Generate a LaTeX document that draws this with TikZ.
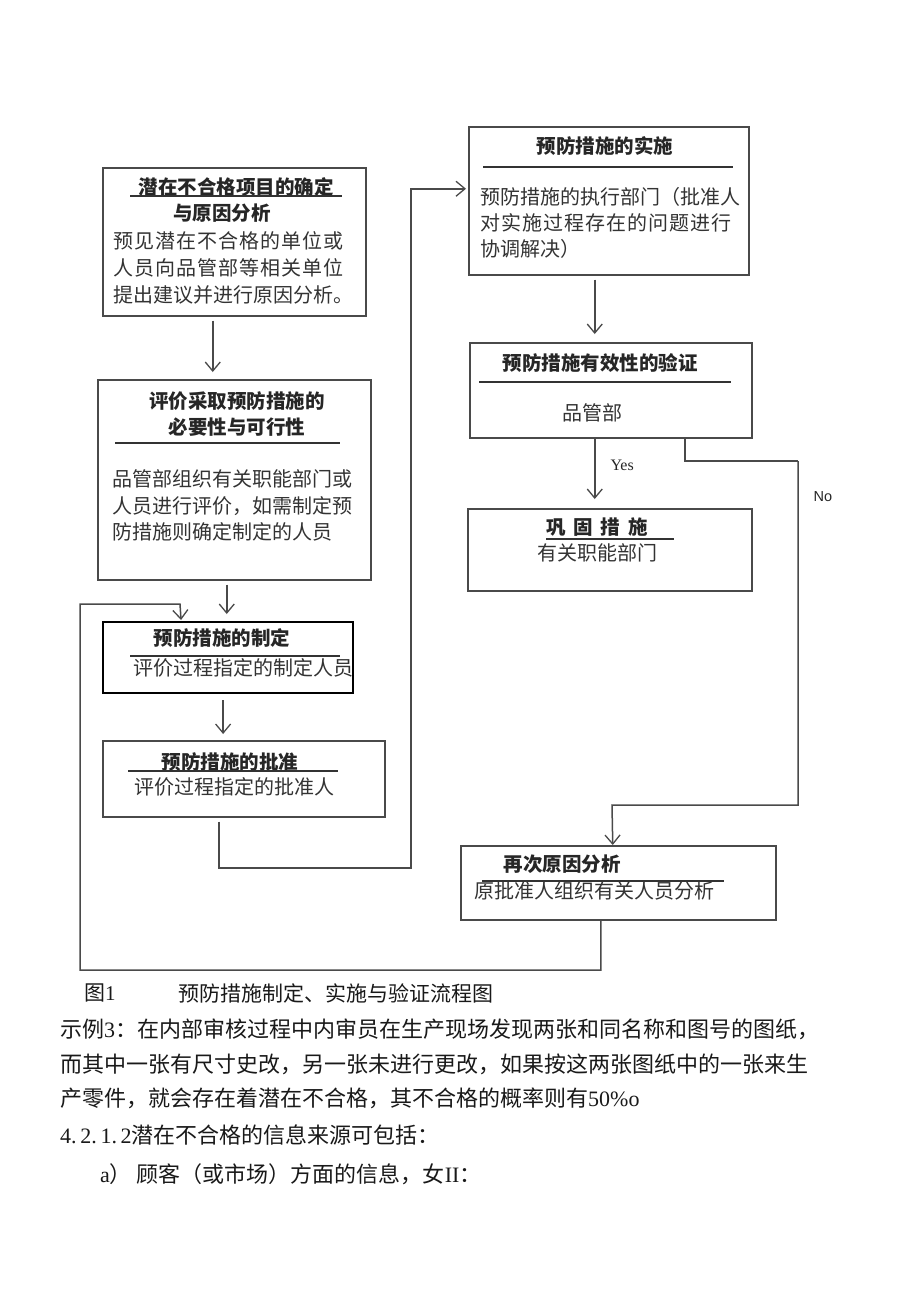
\documentclass[tikz,border=0pt]{standalone}
\usepackage{fontspec}
\setmainfont{Liberation Serif}
\newfontfamily\cjk{Noto Sans CJK SC}
\newfontfamily\arialf{Liberation Sans}
\newfontfamily\latf{Liberation Serif}
\usetikzlibrary{arrows.meta}
\definecolor{ln}{HTML}{4A4A4A}
\definecolor{tx}{HTML}{333333}
\tikzset{
 box/.style={draw=ln, line width=1.5pt, anchor=north west, inner sep=0pt},
 ttl/.style={font=\cjk\bfseries\fontsize{19.5}{20}\selectfont, text=black!85, inner sep=0pt},
 bdy/.style={font=\cjk\fontsize{20}{20}\selectfont, text=tx, inner sep=0pt},
 ul/.style={draw=black!80, line width=1.3pt},
 con/.style={draw=ln, line width=1.5pt},
 arr/.style={con, -{Straight Barb[length=9pt,width=15pt,line width=1.3pt]}},
 para/.style={font=\cjk\fontsize{22}{22}\selectfont, text=black!90, inner sep=0pt, anchor=west},
 lbl/.style={font=\latf\fontsize{16}{16}\selectfont, text=black!85, inner sep=0pt},
}
\begin{document}
\begin{tikzpicture}[x=1pt,y=-1pt]
\useasboundingbox (0,0) rectangle (920,1310);
\fill[white] (0,0) rectangle (920,1310);

% boxes
\node[box, minimum width=263pt, minimum height=148pt] (b1) at (102,167) {};
\node[box, minimum width=273pt, minimum height=200pt] (b2) at (97,379) {};
\node[box, draw=black, line width=2.2pt, minimum width=250pt, minimum height=71pt] (b3) at (102,621) {};
\node[box, minimum width=282pt, minimum height=76pt] (b4) at (102,740) {};
\node[box, minimum width=280pt, minimum height=148pt] (b5) at (468,126) {};
\node[box, minimum width=282pt, minimum height=95pt] (b6) at (469,342) {};
\node[box, minimum width=284pt, minimum height=82pt] (b7) at (467,508) {};
\node[box, minimum width=315pt, minimum height=74pt] (b8) at (460,845) {};

% box 1 text
\node[ttl] (t1a) at (236,187) {潜在不合格项目的确定};
\draw[ul] (130,196) -- (342,196);
\node[ttl] (t1b) at (222,213) {与原因分析};
\node[bdy, anchor=west] (t1c) at (113,241) {\addfontfeature{LetterSpace=5}预见潜在不合格的单位或};
\node[bdy, anchor=west] (t1d) at (113,268) {\addfontfeature{LetterSpace=5}人员向品管部等相关单位};
\node[bdy, anchor=west] (t1e) at (113,295) {提出建议并进行原因分析。};

% box 2 text
\node[ttl] (t2a) at (237,401) {评价采取预防措施的};
\node[ttl] (t2b) at (237,427) {必要性与可行性};
\draw[ul] (115,443) -- (340,443);
\node[bdy, anchor=west] (t2c) at (112,479) {品管部组织有关职能部门或};
\node[bdy, anchor=west] (t2d) at (112,506) {人员进行评价，如需制定预};
\node[bdy, anchor=west] (t2e) at (112,532) {防措施则确定制定的人员};

% box 3 text
\node[ttl] (t3a) at (222,638) {预防措施的制定};
\draw[ul] (130,656) -- (340,656);
\node[bdy] (t3b) at (243,668) {评价过程指定的制定人员};

% box 4 text
\node[ttl] (t4a) at (230,762) {预防措施的批准};
\draw[ul] (128,771) -- (338,771);
\node[bdy] (t4b) at (234,787) {评价过程指定的批准人};

% box 5 text
\node[ttl] (t5a) at (605,146) {预防措施的实施};
\draw[ul] (483,167) -- (733,167);
\node[bdy, anchor=west] (t5b) at (480,197) {预防措施的执行部门（批准人};
\node[bdy, anchor=west] (t5c) at (480,223) {\addfontfeature{LetterSpace=5}对实施过程存在的问题进行};
\node[bdy, anchor=west] (t5d) at (480,249) {协调解决）};

% box 6 text
\node[ttl] (t6a) at (600,363) {预防措施有效性的验证};
\draw[ul] (479,382) -- (731,382);
\node[bdy] (t6b) at (592,413) {品管部};

% box 7 text
\node[ttl] (t7a) at (597,527) {巩\hspace{8pt}固\hspace{8pt}措\hspace{8pt}施};
\draw[ul] (546,539) -- (674,539);
\node[bdy] (t7b) at (597,553) {有关职能部门};

% box 8 text
\node[ttl] (t8a) at (562,864) {再次原因分析};
\draw[ul] (482,881) -- (724,881);
\node[bdy] (t8b) at (594,891) {原批准人组织有关人员分析};

% connectors
\draw[arr, shorten <=4pt, shorten >=7pt] ([xshift=-21.5pt]b1.south) -- ([xshift=-21.5pt]b1.south |- b2.north);
\draw[arr, shorten <=4pt, shorten >=7pt] ([xshift=-7.5pt]b2.south) -- ([xshift=-7.5pt]b2.south |- b3.north);
\draw[arr, shorten <=6pt, shorten >=6pt] ([xshift=-5pt]b3.south) -- ([xshift=-5pt]b3.south |- b4.north);
\draw[arr, shorten <=4pt, shorten >=2pt] ([xshift=-25pt]b4.south) |- (411,868) |- ([yshift=12pt]b5.west);
\draw[arr, shorten <=4pt, shorten >=8pt] ([xshift=-14pt]b5.south) -- ([xshift=-14pt]b5.south |- b6.north);
\draw[arr, shorten >=9pt] ([xshift=-16pt]b6.south) -- node[lbl, right=15pt, pos=0.38] (yes) {Yes} ([xshift=-16pt]b6.south |- b7.north);
\draw[con] ([xshift=74pt]b6.south) |- (798,461) coordinate (nc);
\draw[arr] (nc) |- (612,805) -- ([xshift=-5.5pt]b8.north);
\node[font=\arialf\fontsize{14.5}{14.5}\selectfont, text=black!85, inner sep=0pt] (no) at (823,497) {No};
\draw[arr, shorten >=1pt] ([xshift=-17.5pt]b8.south) |- (80,970) |- (180,604) -- ([xshift=-47pt]b3.north);

% caption and paragraph
\node[para, font=\cjk\fontsize{21}{21}\selectfont] (cap1) at (84,993) {图{\latf 1}};
\node[para, font=\cjk\fontsize{21}{21}\selectfont] (cap2) at (178,993) {预防措施制定、实施与验证流程图};
\node[para] (p1) at (60,1029) {示例{\latf 3}：在内部审核过程中内审员在生产现场发现两张和同名称和图号的图纸，};
\node[para] (p2) at (60,1064) {而其中一张有尺寸史改，另一张未进行更改，如果按这两张图纸中的一张来生};
\node[para] (p3) at (60,1098) {产零件，就会存在着潜在不合格，其不合格的概率则有{\latf 50\%o}};
\node[para] (p4) at (60,1135) {{\latf 4.\,2.\,1.\,2}潜在不合格的信息来源可包括：};
\node[para] (p5) at (100,1174) {{\latf a}）\ 顾客（或市场）方面的信息，女{\latf II}：};
\end{tikzpicture}
\end{document}
